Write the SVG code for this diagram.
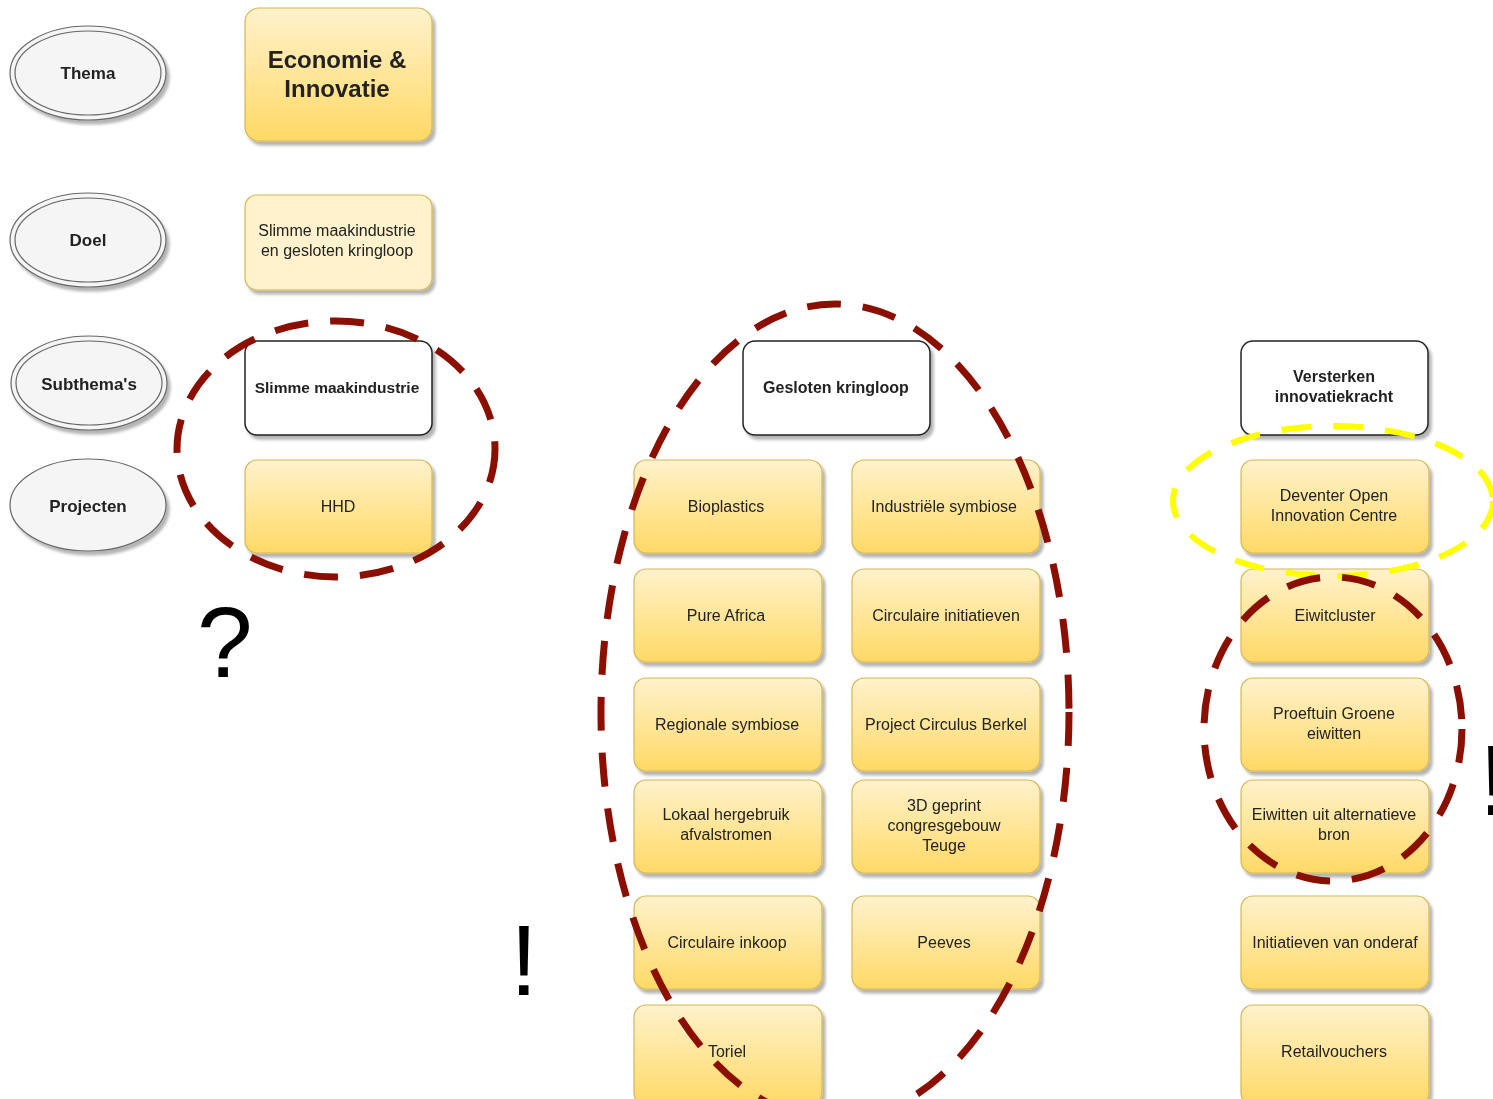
<svg xmlns="http://www.w3.org/2000/svg" width="1493" height="1099" viewBox="0 0 1493 1099">
<defs>
<linearGradient id="yg" x1="0" y1="0" x2="0" y2="1">
<stop offset="0" stop-color="#fff2cc"/>
<stop offset="1" stop-color="#ffd966"/>
</linearGradient>
<filter id="sh" x="-10%" y="-10%" width="130%" height="130%">
<feGaussianBlur in="SourceAlpha" stdDeviation="1.5"/>
<feOffset dx="3" dy="4" result="o"/>
<feComponentTransfer><feFuncA type="linear" slope="0.3"/></feComponentTransfer>
<feMerge><feMergeNode/><feMergeNode in="SourceGraphic"/></feMerge>
</filter>
</defs>
<style>
.lab{fill:#f5f5f5;stroke:#666;stroke-width:1.2}
.yb{fill:url(#yg);stroke:#d6b656;stroke-width:1.2}
.lb{fill:#fff2cc;stroke:#d6b656;stroke-width:1.2}
.wb{fill:#fff;stroke:#222;stroke-width:1.5}
text{font-family:"Liberation Sans",Arial,sans-serif;font-size:16px;fill:#222;text-anchor:middle}
.b{font-weight:bold}
.dr{fill:none;stroke:#8b0f00;stroke-width:7;stroke-dasharray:34 22}
.dy{fill:none;stroke:#ffff00;stroke-width:6;stroke-dasharray:30 22}
.big{font-size:100px;fill:#000;text-anchor:start}
</style>
<g id="labels">
<g id="thema" filter="url(#sh)"><ellipse cx="88" cy="73" rx="78" ry="47" class="lab"/><ellipse cx="88" cy="73" rx="73" ry="42" fill="none" stroke="#666" stroke-width="1.2"/><text x="88" y="79" class="b" style="font-size:17px">Thema</text></g>
<g id="doel" filter="url(#sh)"><ellipse cx="88" cy="240" rx="78" ry="47" class="lab"/><ellipse cx="88" cy="240" rx="73" ry="42" fill="none" stroke="#666" stroke-width="1.2"/><text x="88" y="246" class="b" style="font-size:17px">Doel</text></g>
<g id="subthemas" filter="url(#sh)"><ellipse cx="89" cy="383" rx="78" ry="47" class="lab"/><ellipse cx="89" cy="383" rx="73" ry="42" fill="none" stroke="#666" stroke-width="1.2"/><text x="89" y="390" class="b" style="font-size:17px">Subthema's</text></g>
<g id="projecten" filter="url(#sh)"><ellipse cx="88" cy="505" rx="78" ry="46" class="lab"/><text x="88" y="512" class="b" style="font-size:17px">Projecten</text></g>
</g>
<g id="col1">
<g id="economie" filter="url(#sh)"><rect x="245" y="8" width="187" height="133" rx="14" class="yb"/><text x="337" y="68" class="b" style="font-size:24px">Economie &amp;</text><text x="337" y="97" class="b" style="font-size:24px">Innovatie</text></g>
<g id="doelbox" filter="url(#sh)"><rect x="245" y="195" width="187" height="95" rx="12" class="lb"/><text x="337" y="236">Slimme maakindustrie</text><text x="337" y="256">en gesloten kringloop</text></g>
<g id="slimme" filter="url(#sh)"><rect x="245" y="341" width="187" height="94" rx="12" class="wb"/><text x="337" y="393" class="b" style="font-size:15.5px">Slimme maakindustrie</text></g>
<g id="hhd" filter="url(#sh)"><rect x="245" y="460" width="187" height="93" rx="12" class="yb"/><text x="338" y="512">HHD</text></g>
</g>
<g id="col2">
<g id="gesloten" filter="url(#sh)"><rect x="743" y="341" width="187" height="94" rx="12" class="wb"/><text x="836" y="393" class="b">Gesloten kringloop</text></g>
<g id="bioplastics" filter="url(#sh)"><rect x="634" y="460" width="188" height="93" rx="12" class="yb"/><text x="726" y="512">Bioplastics</text></g>
<g id="industriele" filter="url(#sh)"><rect x="852" y="460" width="188" height="93" rx="12" class="yb"/><text x="944" y="512">Industriële symbiose</text></g>
<g id="pureafrica" filter="url(#sh)"><rect x="634" y="569" width="188" height="93" rx="12" class="yb"/><text x="726" y="621">Pure Africa</text></g>
<g id="circinit" filter="url(#sh)"><rect x="852" y="569" width="188" height="93" rx="12" class="yb"/><text x="946" y="621">Circulaire initiatieven</text></g>
<g id="regionale" filter="url(#sh)"><rect x="634" y="678" width="188" height="93" rx="12" class="yb"/><text x="727" y="730">Regionale symbiose</text></g>
<g id="berkel" filter="url(#sh)"><rect x="852" y="678" width="188" height="93" rx="12" class="yb"/><text x="946" y="730">Project Circulus Berkel</text></g>
<g id="lokaal" filter="url(#sh)"><rect x="634" y="780" width="188" height="93" rx="12" class="yb"/><text x="726" y="820">Lokaal hergebruik</text><text x="726" y="840">afvalstromen</text></g>
<g id="geprint" filter="url(#sh)"><rect x="852" y="780" width="188" height="93" rx="12" class="yb"/><text x="944" y="811">3D geprint</text><text x="944" y="831">congresgebouw</text><text x="944" y="851">Teuge</text></g>
<g id="inkoop" filter="url(#sh)"><rect x="634" y="896" width="188" height="93" rx="12" class="yb"/><text x="727" y="948">Circulaire inkoop</text></g>
<g id="peeves" filter="url(#sh)"><rect x="852" y="896" width="188" height="93" rx="12" class="yb"/><text x="944" y="948">Peeves</text></g>
<g id="toriel" filter="url(#sh)"><rect x="634" y="1005" width="188" height="100" rx="12" class="yb"/><text x="727" y="1057">Toriel</text></g>
</g>
<g id="col3">
<g id="versterken" filter="url(#sh)"><rect x="1241" y="341" width="187" height="94" rx="12" class="wb"/><text x="1334" y="382" class="b">Versterken</text><text x="1334" y="402" class="b">innovatiekracht</text></g>
<g id="deventer" filter="url(#sh)"><rect x="1241" y="460" width="188" height="93" rx="12" class="yb"/><text x="1334" y="501">Deventer Open</text><text x="1334" y="521">Innovation Centre</text></g>
<g id="eiwitcluster" filter="url(#sh)"><rect x="1241" y="569" width="188" height="93" rx="12" class="yb"/><text x="1335" y="621">Eiwitcluster</text></g>
<g id="proeftuin" filter="url(#sh)"><rect x="1241" y="678" width="188" height="93" rx="12" class="yb"/><text x="1334" y="719">Proeftuin Groene</text><text x="1334" y="739">eiwitten</text></g>
<g id="eiwitten" filter="url(#sh)"><rect x="1241" y="780" width="188" height="93" rx="12" class="yb"/><text x="1334" y="820">Eiwitten uit alternatieve</text><text x="1334" y="840">bron</text></g>
<g id="initiatieven" filter="url(#sh)"><rect x="1241" y="896" width="188" height="93" rx="12" class="yb"/><text x="1335" y="948">Initiatieven van onderaf</text></g>
<g id="retail" filter="url(#sh)"><rect x="1241" y="1005" width="188" height="100" rx="12" class="yb"/><text x="1334" y="1057">Retailvouchers</text></g>
</g>
<g id="connectors">
<ellipse cx="336" cy="449" rx="159" ry="128" class="dr"/>
<ellipse cx="835" cy="712" rx="234" ry="408" class="dr"/>
<ellipse cx="1333" cy="501" rx="160" ry="75" class="dy"/>
<ellipse cx="1333" cy="729" rx="129" ry="152" class="dr"/>
</g>
<g id="marks">
<text x="197" y="677" class="big">?</text>
<text x="510" y="995" class="big">!</text>
<text x="1479" y="815" class="big">!</text>
</g>
</svg>
